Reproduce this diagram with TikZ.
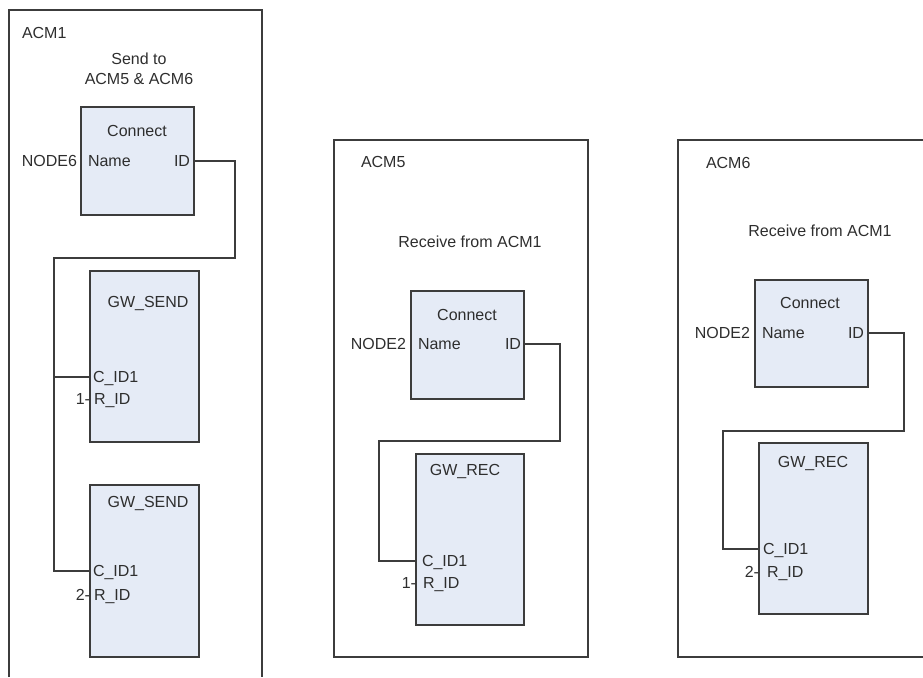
\documentclass[tikz,border=0pt]{standalone}
\usepackage{fontspec}
\setmainfont{Liberation Sans}
\definecolor{linec}{HTML}{3C3C3C}
\definecolor{boxfill}{HTML}{E5EBF6}
\definecolor{txtc}{HTML}{2E2E2E}
\begin{document}
\begin{tikzpicture}[x=1pt,y=-1pt,
  every node/.style={font=\fontsize{16}{19}\selectfont, text=txtc, inner sep=0pt, outer sep=0pt, text height=11.5pt, text depth=0pt},
  blk/.style={draw=linec, fill=boxfill, line width=1.3pt, anchor=north west},
  frame/.style={draw=linec, line width=1.3pt},
  wire/.style={draw=linec, line width=1.3pt}]
\useasboundingbox (0,0) rectangle (923,677);

% ---------- frames ----------
\draw[frame] (9,677) |- (262,10) -- (262,677);
\draw[frame] (334,140) rectangle (588,657);
\draw[frame] (923,140) -| (678,657) -- (923,657);

% ---------- ACM1 ----------
\node[anchor=west] (t1) at (22,33) {ACM1};
\node (s1) at (139,59) {Send to};
\node (s2) at (139,79) {ACM5 \& ACM6};

\node[blk, minimum width=113pt, minimum height=108pt] (con1) at (81,107) {};
\node (ct1) at (137,131) {Connect};
\node[anchor=west] (nm1) at (88,161) {Name};
\node[anchor=east] (id1) at (190,161) {ID};
\node[anchor=east] (nd1) at (77,161) {NODE6};

\node[blk, minimum width=109pt, minimum height=171pt] (gs1) at (90,271) {};
\node (gt1) at (148,302) {GW\_SEND};
\node[anchor=west] (ci1) at (93,377) {C\_ID1};
\node[anchor=west] (ri1) at (94,399) {R\_ID};
\node[anchor=east] (n1) at (90,399) {1-};

\node[blk, minimum width=109pt, minimum height=172pt] (gs2) at (90,485) {};
\node (gt2) at (148,502) {GW\_SEND};
\node[anchor=west] (ci2) at (93,571) {C\_ID1};
\node[anchor=west] (ri2) at (94,595) {R\_ID};
\node[anchor=east] (n2) at (90,595) {2-};

\coordinate (j1) at (235,258);
\coordinate (b1) at (54,258);
\draw[wire] (con1.east |- id1) -| (j1) -- (b1) |- (gs2.west |- ci2);
\draw[wire] (b1 |- ci1) -- (gs1.west |- ci1);

% ---------- ACM5 ----------
\node[anchor=west] (t5) at (361,162) {ACM5};
\node (r5) at (470,242) {Receive from ACM1};

\node[blk, minimum width=113pt, minimum height=108pt] (con5) at (411,291) {};
\node (ct5) at (467,315) {Connect};
\node[anchor=west] (nm5) at (418,344) {Name};
\node[anchor=east] (id5) at (521,344) {ID};
\node[anchor=east] (nd5) at (406,344) {NODE2};

\node[blk, minimum width=108pt, minimum height=171pt] (gr5) at (416,454) {};
\node (gt5) at (465,470) {GW\_REC};
\node[anchor=west] (ci5) at (422,561) {C\_ID1};
\node[anchor=west] (ri5) at (423,583) {R\_ID};
\node[anchor=east] (n5) at (416,583) {1-};

\coordinate (j5) at (560,441);
\coordinate (b5) at (379,441);
\draw[wire] (con5.east |- id5) -| (j5) -- (b5) |- (gr5.west |- ci5);

% ---------- ACM6 ----------
\node[anchor=west] (t6) at (706,163) {ACM6};
\node (r6) at (820,231) {Receive from ACM1};

\node[blk, minimum width=113pt, minimum height=107pt] (con6) at (755,280) {};
\node (ct6) at (810,303) {Connect};
\node[anchor=west] (nm6) at (762,333) {Name};
\node[anchor=east] (id6) at (864,333) {ID};
\node[anchor=east] (nd6) at (750,333) {NODE2};

\node[blk, minimum width=109pt, minimum height=171pt] (gr6) at (759,443) {};
\node (gt6) at (813,462) {GW\_REC};
\node[anchor=west] (ci6) at (763,549) {C\_ID1};
\node[anchor=west] (ri6) at (767,572) {R\_ID};
\node[anchor=east] (n6) at (759,572) {2-};

\coordinate (j6) at (904,431);
\coordinate (b6) at (723,431);
\draw[wire] (con6.east |- id6) -| (j6) -- (b6) |- (gr6.west |- ci6);
\end{tikzpicture}
\end{document}
